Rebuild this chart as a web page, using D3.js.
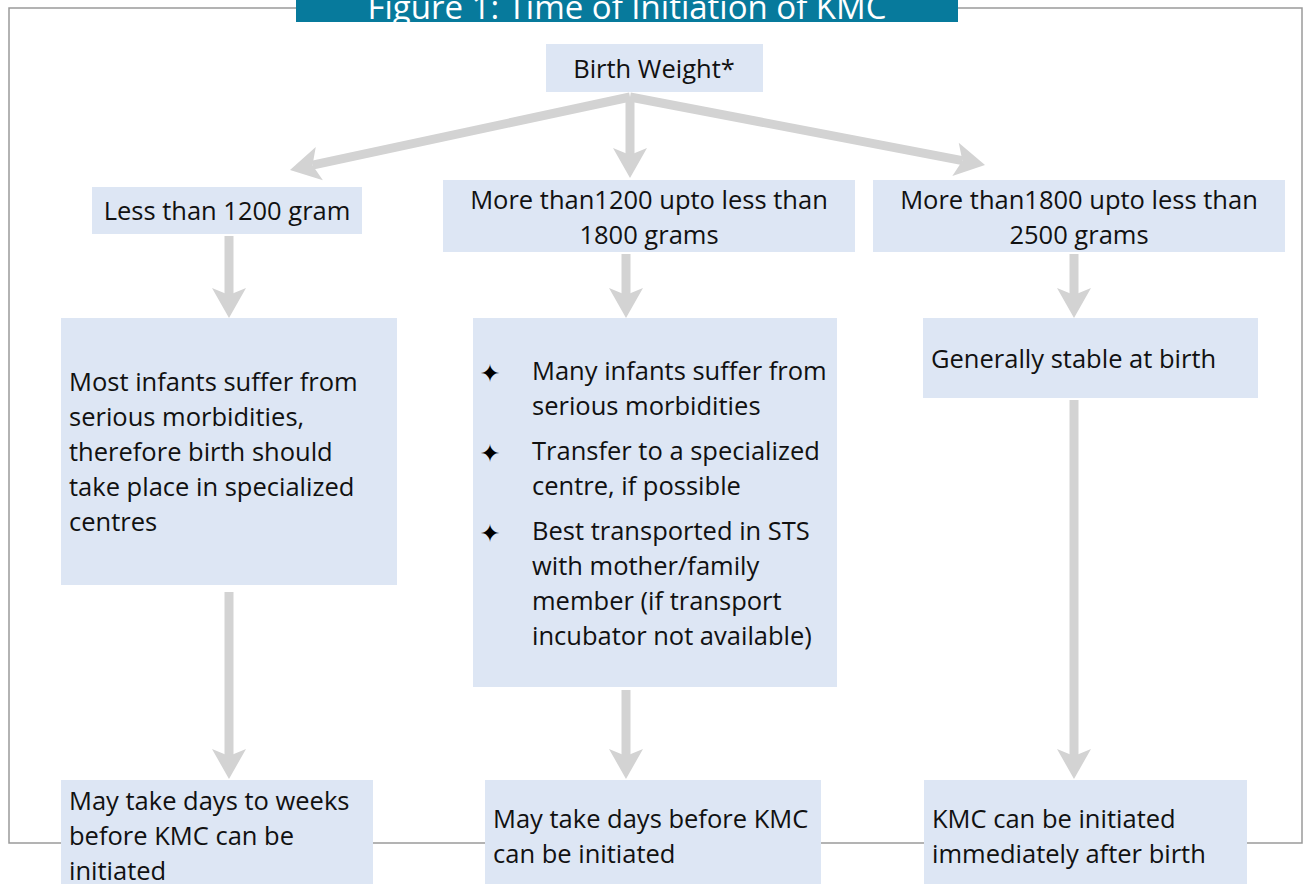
<!DOCTYPE html>
<html>
<head>
<meta charset="utf-8">
<script src="https://cdn.jsdelivr.net/npm/d3@7"></script>
<style>
  body { margin: 0; background: #fff; }
  svg { display: block; font-family: "Open Sans", sans-serif; }
</style>
</head>
<body>
<div id="chart"></div>
<script>
// Figure text
const titleText = "Figure 1: Time of Initiation of KMC";
const rootText = ["Birth Weight*"];
const groupTexts = [
    ["Less than 1200 gram"],
    ["More than1200 upto less than", "1800 grams"],
    ["More than1800 upto less than", "2500 grams"]
];
const conditionTexts = [
    ["Most infants suffer from", "serious morbidities,", "therefore birth should", "take place in specialized", "centres"],
    null,
    ["Generally stable at birth"]
];
// bullet list for the middle column
const middleBullets = [
    ["Many infants suffer from", "serious morbidities"],
    ["Transfer to a specialized", "centre, if possible"],
    ["Best transported in STS", "with mother/family", "member (if transport", "incubator not available)"]
];
const timingTexts = [
    ["May take days to weeks", "before KMC can be", "initiated"],
    ["May take days before KMC", "can be initiated"],
    ["KMC can be initiated", "immediately after birth"]
];

const W = 1304, H = 884;
const boxFill = "#dde6f4";
const arrowGrey = "#d3d3d3";
const lineH = 35;
const fontSize = '25.5px';

const svg = d3.select('#chart')
    .append('svg')
    .attr('width', W)
    .attr('height', H);

// outer frame with a gap for the title bar
svg.append('path')
    .attr('d', 'M296,8 H9 V843 H1302 V8 H958')
    .attr('fill', 'none')
    .attr('stroke', '#9a9a9a')
    .attr('stroke-width', 1.5);

svg.append('rect')
    .attr('x', 296).attr('y', 0)
    .attr('width', 662).attr('height', 22)
    .attr('fill', '#077a9c');

svg.append('text')
    .attr('x', 627).attr('y', 19)
    .attr('text-anchor', 'middle')
    .attr('fill', '#fff')
    .style('font-size', '33px')
    .text(titleText);

// box geometry for each node (x, y, w, h)
const layout = {
    root: [546, 44, 217, 48],
    groups: [[92, 187, 270, 47], [443, 180, 412, 72], [873, 180, 412, 72]],
    conds: [[61, 318, 336, 267], [473, 318, 364, 369], [923, 318, 335, 80]],
    timing: [[61, 780, 312, 110], [485, 780, 336, 110], [924, 780, 323, 110]]
};

// arrows first, boxes drawn over them
function arrow(x1, y1, x2, y2) {
    const dx = x2 - x1, dy = y2 - y1;
    const len = Math.hypot(dx, dy);
    const ux = dx / len, uy = dy / len;
    const vx = -uy, vy = ux;
    const L = 30, hw = 17, notch = 7, sw = 9;
    const bx = x2 - ux * (L - notch), by = y2 - uy * (L - notch);
    svg.append('line')
        .attr('x1', x1).attr('y1', y1)
        .attr('x2', bx).attr('y2', by)
        .attr('stroke', arrowGrey)
        .attr('stroke-width', sw);
    const pts = [
        [x2, y2],
        [x2 - ux * L + vx * hw, y2 - uy * L + vy * hw],
        [bx, by],
        [x2 - ux * L - vx * hw, y2 - uy * L - vy * hw]
    ];
    svg.append('polygon')
        .attr('points', pts.map(p => p.join(',')).join(' '))
        .attr('fill', arrowGrey);
}

arrow(630, 97, 290, 170);
arrow(630, 97, 630, 178);
arrow(630, 97, 985, 165);

const colX = [229, 626, 1074];
arrow(colX[0], 236, colX[0], 318);
arrow(colX[1], 254, colX[1], 318);
arrow(colX[2], 254, colX[2], 318);
arrow(colX[0], 592, colX[0], 779);
arrow(colX[1], 690, colX[1], 779);
arrow(colX[2], 400, colX[2], 779);

function box(r) {
    svg.append('rect')
        .attr('x', r[0]).attr('y', r[1])
        .attr('width', r[2]).attr('height', r[3])
        .attr('fill', boxFill);
}

function lines(textLines, x, y0, anchor) {
    const t = svg.append('text')
        .attr('text-anchor', anchor)
        .attr('fill', '#111')
        .style('font-size', fontSize);
    textLines.forEach((s, i) => {
        t.append('tspan').attr('x', x).attr('y', y0 + i * lineH).text(s);
    });
}

box(layout.root);
lines(rootText, 654, 78, 'middle');

layout.groups.forEach((r, i) => {
    box(r);
    const y0 = groupTexts[i].length > 1 ? 209 : 220;
    lines(groupTexts[i], r[0] + r[2] / 2, y0, 'middle');
});

layout.conds.forEach((r, i) => {
    box(r);
    if (conditionTexts[i]) {
        const y0 = conditionTexts[i].length > 1 ? 391 : 368;
        lines(conditionTexts[i], r[0] + 8, y0, 'start');
    }
});

// middle column bullets
let by = 380;
middleBullets.forEach(item => {
    svg.append('text')
        .attr('x', 490).attr('y', by + 2)
        .attr('text-anchor', 'middle')
        .style('font-family', 'DejaVu Sans')
        .style('font-size', '25px')
        .text('\u2726');
    lines(item, 532, by, 'start');
    by += item.length * lineH + 10;
});

layout.timing.forEach((r, i) => {
    box(r);
    const y0 = timingTexts[i].length > 2 ? 810 : 828;
    lines(timingTexts[i], r[0] + 8, y0, 'start');
});
</script>
</body>
</html>
